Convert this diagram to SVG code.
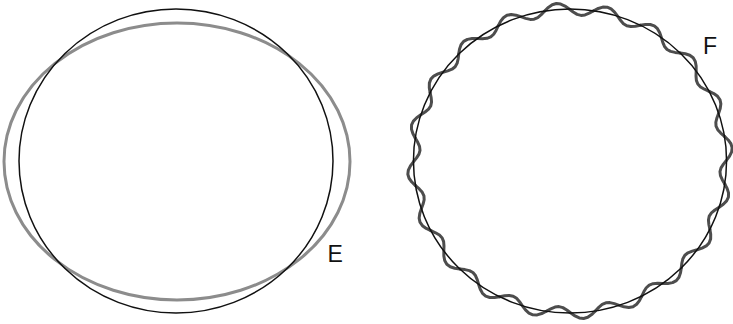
<svg xmlns="http://www.w3.org/2000/svg" xmlns:xlink="http://www.w3.org/1999/xlink" width="733" height="324" viewBox="0 0 733 324">
<style>
.thin{fill:none;stroke:#111;stroke-width:1.5}
.grey{fill:none;stroke:#8c8c8c;stroke-width:3}
.wave{fill:none;stroke:#4d4d4d;stroke-width:3;stroke-linejoin:round;stroke-linecap:round}
.lbl{font-family:"Liberation Sans",Arial,sans-serif;font-size:23px;fill:#111}
</style>
<defs>
<polyline id="period" class="wave" vector-effect="non-scaling-stroke" points="152,0 154.95,4.06 156.98,8.23 157.51,12.40 156.34,16.43 153.67,20.23 150.13,23.78 146.50,27.15 143.59,30.52 141.97,34.08 141.80,37.99 142.86,42.32 144.56,46.97"/>
</defs>
<rect width="733" height="324" fill="#fff"/>
<g id="E">
<ellipse class="grey" cx="177" cy="161.5" rx="173" ry="138.5"/>
<ellipse class="thin" cx="176" cy="161" rx="157" ry="152"/>
<text class="lbl" x="327.5" y="262">E</text>
</g>
<g id="F">
<g transform="translate(570,161) scale(1.03,1)">
<use xlink:href="#period" transform="rotate(8.7)"/>
<use xlink:href="#period" transform="rotate(26.7)"/>
<use xlink:href="#period" transform="rotate(44.7)"/>
<use xlink:href="#period" transform="rotate(62.7)"/>
<use xlink:href="#period" transform="rotate(80.7)"/>
<use xlink:href="#period" transform="rotate(98.7)"/>
<use xlink:href="#period" transform="rotate(116.7)"/>
<use xlink:href="#period" transform="rotate(134.7)"/>
<use xlink:href="#period" transform="rotate(152.7)"/>
<use xlink:href="#period" transform="rotate(170.7)"/>
<use xlink:href="#period" transform="rotate(188.7)"/>
<use xlink:href="#period" transform="rotate(206.7)"/>
<use xlink:href="#period" transform="rotate(224.7)"/>
<use xlink:href="#period" transform="rotate(242.7)"/>
<use xlink:href="#period" transform="rotate(260.7)"/>
<use xlink:href="#period" transform="rotate(278.7)"/>
<use xlink:href="#period" transform="rotate(296.7)"/>
<use xlink:href="#period" transform="rotate(314.7)"/>
<use xlink:href="#period" transform="rotate(332.7)"/>
<use xlink:href="#period" transform="rotate(350.7)"/>
<circle class="thin" vector-effect="non-scaling-stroke" r="152"/>
</g>
<text class="lbl" x="703" y="54">F</text>
</g>
</svg>
